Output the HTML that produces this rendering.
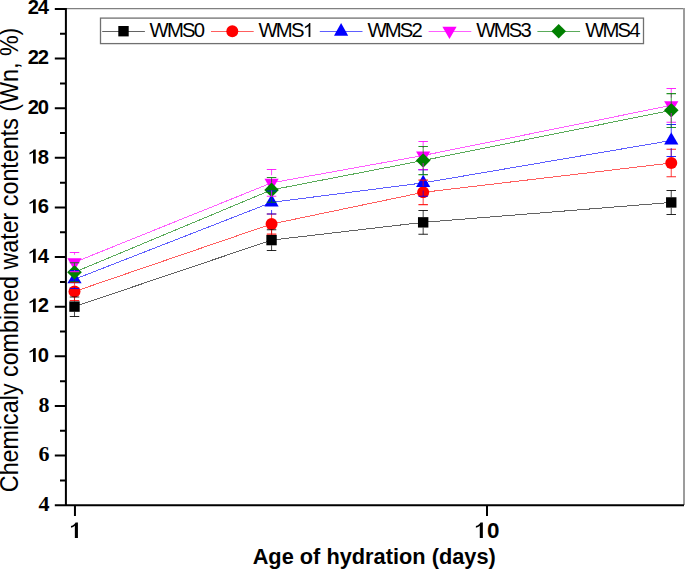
<!DOCTYPE html>
<html><head><meta charset="utf-8"><style>
html,body{margin:0;padding:0;background:#fff;}
body{width:685px;height:569px;overflow:hidden;}
svg{display:block;}
text{font-family:"Liberation Sans",sans-serif;}
</style></head><body>
<svg width="685" height="569" viewBox="0 0 685 569">
<rect width="685" height="569" fill="#fff"/>

<path d="M65.9,8.6 H683.5" fill="none" stroke="#808080" stroke-width="1.2"/>
<rect x="683" y="8" width="2" height="497" fill="#9c9c9c"/>
<polyline points="74.50,306.60 271.55,240.10 423.17,222.35 671.25,202.45" fill="none" stroke="#636363" stroke-width="1" shape-rendering="crispEdges"/>
<polyline points="74.50,291.50 271.55,224.00 423.17,192.35 671.25,163.00" fill="none" stroke="#ff5e5e" stroke-width="1" shape-rendering="crispEdges"/>
<polyline points="74.50,279.30 271.55,202.40 423.17,182.90 671.25,140.50" fill="none" stroke="#5e5eff" stroke-width="1" shape-rendering="crispEdges"/>
<polyline points="74.50,262.30 271.55,182.85 423.17,155.50 671.25,105.35" fill="none" stroke="#ff5eff" stroke-width="1" shape-rendering="crispEdges"/>
<polyline points="74.50,272.20 271.55,189.90 423.17,160.50 671.25,110.30" fill="none" stroke="#5aab5a" stroke-width="1" shape-rendering="crispEdges"/>
<rect x="69.30" y="301.40" width="10.4" height="10.4" fill="#000000"/>
<rect x="266.35" y="234.90" width="10.4" height="10.4" fill="#000000"/>
<rect x="417.97" y="217.15" width="10.4" height="10.4" fill="#000000"/>
<rect x="666.05" y="197.25" width="10.4" height="10.4" fill="#000000"/>
<circle cx="74.50" cy="291.50" r="6" fill="#ff0000"/>
<circle cx="271.55" cy="224.00" r="6" fill="#ff0000"/>
<circle cx="423.17" cy="192.35" r="6" fill="#ff0000"/>
<circle cx="671.25" cy="163.00" r="6" fill="#ff0000"/>
<polygon points="74.50,271.17 81.60,283.37 67.40,283.37" fill="#0000ff"/>
<polygon points="271.55,194.27 278.65,206.47 264.45,206.47" fill="#0000ff"/>
<polygon points="423.17,174.77 430.27,186.97 416.07,186.97" fill="#0000ff"/>
<polygon points="671.25,132.37 678.35,144.57 664.15,144.57" fill="#0000ff"/>
<polygon points="67.40,258.23 81.60,258.23 74.50,270.43" fill="#ff00ff"/>
<polygon points="264.45,178.78 278.65,178.78 271.55,190.98" fill="#ff00ff"/>
<polygon points="416.07,151.43 430.27,151.43 423.17,163.63" fill="#ff00ff"/>
<polygon points="664.15,101.28 678.35,101.28 671.25,113.48" fill="#ff00ff"/>
<polygon points="74.50,264.90 81.80,272.20 74.50,279.50 67.20,272.20" fill="#008000"/>
<polygon points="271.55,182.60 278.85,189.90 271.55,197.20 264.25,189.90" fill="#008000"/>
<polygon points="423.17,153.20 430.47,160.50 423.17,167.80 415.87,160.50" fill="#008000"/>
<polygon points="671.25,103.00 678.55,110.30 671.25,117.60 663.95,110.30" fill="#008000"/>
<path d=" M74.50,297.00 V301.40 M74.50,311.80 V316.40" stroke="#000000" stroke-width="1.05" stroke-opacity="0.7" fill="none"/>
<path d="M69.75,297.00 H79.25 M69.75,316.40 H79.25" stroke="#000000" stroke-width="1.05" stroke-opacity="0.85" fill="none"/>
<path d=" M271.55,229.75 V234.90 M271.55,245.30 V250.50" stroke="#000000" stroke-width="1.05" stroke-opacity="0.7" fill="none"/>
<path d="M266.80,229.75 H276.30 M266.80,250.50 H276.30" stroke="#000000" stroke-width="1.05" stroke-opacity="0.85" fill="none"/>
<path d=" M423.17,210.40 V217.15 M423.17,227.55 V234.30" stroke="#000000" stroke-width="1.05" stroke-opacity="0.7" fill="none"/>
<path d="M418.42,210.40 H427.92 M418.42,234.30 H427.92" stroke="#000000" stroke-width="1.05" stroke-opacity="0.85" fill="none"/>
<path d=" M671.25,190.50 V197.25 M671.25,207.65 V214.40" stroke="#000000" stroke-width="1.05" stroke-opacity="0.7" fill="none"/>
<path d="M666.50,190.50 H676.00 M666.50,214.40 H676.00" stroke="#000000" stroke-width="1.05" stroke-opacity="0.85" fill="none"/>
<path d=" M74.50,282.50 V285.50 M74.50,297.50 V300.50" stroke="#ff0000" stroke-width="1.05" stroke-opacity="0.7" fill="none"/>
<path d="M69.75,282.50 H79.25 M69.75,300.50 H79.25" stroke="#ff0000" stroke-width="1.05" stroke-opacity="0.85" fill="none"/>
<path d=" M271.55,213.90 V218.00 M271.55,230.00 V234.10" stroke="#ff0000" stroke-width="1.05" stroke-opacity="0.7" fill="none"/>
<path d="M266.80,213.90 H276.30 M266.80,234.10 H276.30" stroke="#ff0000" stroke-width="1.05" stroke-opacity="0.85" fill="none"/>
<path d=" M423.17,180.10 V186.35 M423.17,198.35 V204.60" stroke="#ff0000" stroke-width="1.05" stroke-opacity="0.7" fill="none"/>
<path d="M418.42,180.10 H427.92 M418.42,204.60 H427.92" stroke="#ff0000" stroke-width="1.05" stroke-opacity="0.85" fill="none"/>
<path d=" M671.25,149.30 V157.00 M671.25,169.00 V176.70" stroke="#ff0000" stroke-width="1.05" stroke-opacity="0.7" fill="none"/>
<path d="M666.50,149.30 H676.00 M666.50,176.70 H676.00" stroke="#ff0000" stroke-width="1.05" stroke-opacity="0.85" fill="none"/>
<path d=" M74.50,270.60 V271.70 M74.50,286.90 V288.50" stroke="#0000ff" stroke-width="1.05" stroke-opacity="0.7" fill="none"/>
<path d="M69.75,270.60 H79.25 M69.75,288.50 H79.25" stroke="#0000ff" stroke-width="1.05" stroke-opacity="0.85" fill="none"/>
<path d=" M271.55,190.90 V194.80 M271.55,210.00 V213.90" stroke="#0000ff" stroke-width="1.05" stroke-opacity="0.7" fill="none"/>
<path d="M266.80,190.90 H276.30 M266.80,213.90 H276.30" stroke="#0000ff" stroke-width="1.05" stroke-opacity="0.85" fill="none"/>
<path d=" M423.17,169.60 V175.30 M423.17,190.50 V196.20" stroke="#0000ff" stroke-width="1.05" stroke-opacity="0.7" fill="none"/>
<path d="M418.42,169.60 H427.92 M418.42,196.20 H427.92" stroke="#0000ff" stroke-width="1.05" stroke-opacity="0.85" fill="none"/>
<path d=" M671.25,124.40 V132.90 M671.25,148.10 V156.40" stroke="#0000ff" stroke-width="1.05" stroke-opacity="0.7" fill="none"/>
<path d="M666.50,124.40 H676.00 M666.50,156.40 H676.00" stroke="#0000ff" stroke-width="1.05" stroke-opacity="0.85" fill="none"/>
<path d=" M74.50,252.50 V254.70 M74.50,269.90 V271.60" stroke="#ff00ff" stroke-width="1.05" stroke-opacity="0.7" fill="none"/>
<path d="M69.75,252.50 H79.25 M69.75,271.60 H79.25" stroke="#ff00ff" stroke-width="1.05" stroke-opacity="0.85" fill="none"/>
<path d=" M271.55,169.40 V175.25 M271.55,190.45 V196.30" stroke="#ff00ff" stroke-width="1.05" stroke-opacity="0.7" fill="none"/>
<path d="M266.80,169.40 H276.30 M266.80,196.30 H276.30" stroke="#ff00ff" stroke-width="1.05" stroke-opacity="0.85" fill="none"/>
<path d=" M423.17,141.40 V147.90 M423.17,163.10 V169.60" stroke="#ff00ff" stroke-width="1.05" stroke-opacity="0.7" fill="none"/>
<path d="M418.42,141.40 H427.92 M418.42,169.60 H427.92" stroke="#ff00ff" stroke-width="1.05" stroke-opacity="0.85" fill="none"/>
<path d=" M671.25,88.50 V97.75 M671.25,112.95 V122.20" stroke="#ff00ff" stroke-width="1.05" stroke-opacity="0.7" fill="none"/>
<path d="M666.50,88.50 H676.00 M666.50,122.20 H676.00" stroke="#ff00ff" stroke-width="1.05" stroke-opacity="0.85" fill="none"/>
<path d=" M74.50,262.70 V264.90 M74.50,279.50 V281.70" stroke="#008000" stroke-width="1.05" stroke-opacity="0.7" fill="none"/>
<path d="M69.75,262.70 H79.25 M69.75,281.70 H79.25" stroke="#008000" stroke-width="1.05" stroke-opacity="0.85" fill="none"/>
<path d=" M271.55,177.50 V182.60 M271.55,197.20 V202.30" stroke="#008000" stroke-width="1.05" stroke-opacity="0.7" fill="none"/>
<path d="M266.80,177.50 H276.30 M266.80,202.30 H276.30" stroke="#008000" stroke-width="1.05" stroke-opacity="0.85" fill="none"/>
<path d=" M423.17,146.40 V153.20 M423.17,167.80 V174.60" stroke="#008000" stroke-width="1.05" stroke-opacity="0.7" fill="none"/>
<path d="M418.42,146.40 H427.92 M418.42,174.60 H427.92" stroke="#008000" stroke-width="1.05" stroke-opacity="0.85" fill="none"/>
<path d=" M671.25,93.60 V103.00 M671.25,117.60 V127.40" stroke="#008000" stroke-width="1.05" stroke-opacity="0.7" fill="none"/>
<path d="M666.50,93.60 H676.00 M666.50,127.40 H676.00" stroke="#008000" stroke-width="1.05" stroke-opacity="0.85" fill="none"/>
<path d="M65.9,8 V506.3 M64.9,505.25 H684 M54.8,505.20 H66 M60,480.39 H66 M54.8,455.58 H66 M60,430.77 H66 M54.8,405.96 H66 M60,381.15 H66 M54.8,356.34 H66 M60,331.53 H66 M54.8,306.72 H66 M60,281.91 H66 M54.8,257.10 H66 M60,232.29 H66 M54.8,207.48 H66 M60,182.67 H66 M54.8,157.86 H66 M60,133.05 H66 M54.8,108.24 H66 M60,83.43 H66 M54.8,58.62 H66 M60,33.81 H66 M54.8,9.00 H66 M74.95,505 V516 M487.00,505 V516" stroke="#000" stroke-width="2" fill="none"/>
<text x="49.6" y="511.00" font-size="22" font-weight="bold" style="font-family:'Liberation Serif',serif" text-anchor="end">4</text>
<text x="49.6" y="461.38" font-size="22" font-weight="bold" style="font-family:'Liberation Serif',serif" text-anchor="end">6</text>
<text x="49.6" y="411.76" font-size="22" font-weight="bold" style="font-family:'Liberation Serif',serif" text-anchor="end">8</text>
<text x="47.7" y="361.99" font-size="20.2" font-weight="bold" letter-spacing="-1.3" text-anchor="end"><tspan class="one" fill="transparent">1</tspan>0</text>
<text x="47.7" y="312.37" font-size="20.2" font-weight="bold" letter-spacing="-1.3" text-anchor="end"><tspan class="one" fill="transparent">1</tspan>2</text>
<text x="47.7" y="262.75" font-size="20.2" font-weight="bold" letter-spacing="-1.3" text-anchor="end"><tspan class="one" fill="transparent">1</tspan>4</text>
<text x="47.7" y="213.13" font-size="20.2" font-weight="bold" letter-spacing="-1.3" text-anchor="end"><tspan class="one" fill="transparent">1</tspan>6</text>
<text x="47.7" y="163.51" font-size="20.2" font-weight="bold" letter-spacing="-1.3" text-anchor="end"><tspan class="one" fill="transparent">1</tspan>8</text>
<text x="47.7" y="113.89" font-size="20.2" font-weight="bold" letter-spacing="-1.3" text-anchor="end">20</text>
<text x="47.7" y="64.27" font-size="20.2" font-weight="bold" letter-spacing="-1.3" text-anchor="end">22</text>
<text x="47.7" y="13.85" font-size="20.2" font-weight="bold" letter-spacing="-1.3" text-anchor="end">24</text>
<text x="74.95" y="537.9" font-size="22.4" font-weight="bold" text-anchor="middle"><tspan class="one" fill="transparent">1</tspan></text>
<text x="487.00" y="537.9" font-size="22.4" font-weight="bold" text-anchor="middle"><tspan class="one" fill="transparent">1</tspan>0</text>
<text transform="translate(374.2,563.5) scale(0.99,1.04)" x="0" y="0" font-size="22" font-weight="bold" text-anchor="middle">Age of hydration (days)</text>
<text transform="translate(18,259.9) rotate(-90) scale(1,1.07)" x="0" y="0" font-size="23.3" text-anchor="middle">Chemicaly combined water contents (Wn, %)</text>
<rect x="100.5" y="18.1" width="543" height="25.5" fill="#fff" stroke="#707070" stroke-width="1.3"/>
<path d="M102.20,31.5 H144.90" stroke="#636363" stroke-width="1"/>
<rect x="118.30" y="26.00" width="10.4" height="10.4" fill="#000000"/>
<text x="149.60" y="37" font-size="20.3" letter-spacing="-1.8">WMS0</text>
<path d="M211.00,31.5 H253.70" stroke="#ff5e5e" stroke-width="1"/>
<circle cx="232.30" cy="31.20" r="6" fill="#ff0000"/>
<text x="258.50" y="37" font-size="20.3" letter-spacing="-1.8">WMS<tspan class="one" fill="transparent">1</tspan></text>
<path d="M319.80,31.5 H362.50" stroke="#5e5eff" stroke-width="1"/>
<polygon points="341.10,23.1 348.20,35.7 334.00,35.7" fill="#0000ff"/>
<text x="367.40" y="37" font-size="20.3" letter-spacing="-1.8">WMS2</text>
<path d="M428.60,31.5 H471.30" stroke="#ff5eff" stroke-width="1"/>
<polygon points="442.40,26.83 456.60,26.83 449.50,39.03" fill="#ff00ff"/>
<text x="476.30" y="37" font-size="20.3" letter-spacing="-1.8">WMS3</text>
<path d="M537.40,31.5 H580.10" stroke="#5aab5a" stroke-width="1"/>
<polygon points="558.70,23.90 566.00,31.20 558.70,38.50 551.40,31.20" fill="#008000"/>
<text x="585.20" y="37" font-size="20.3" letter-spacing="-1.8">WMS4</text>
<path transform="translate(28.275,361.990) scale(0.009863,-0.009863)" d="M759,0 V1409 H545 C490,1285 335,1150 123,1085 V925 C270,965 390,1030 478,1105 V0 Z" fill="#000"/>
<path transform="translate(28.275,312.370) scale(0.009863,-0.009863)" d="M759,0 V1409 H545 C490,1285 335,1150 123,1085 V925 C270,965 390,1030 478,1105 V0 Z" fill="#000"/>
<path transform="translate(28.275,262.750) scale(0.009863,-0.009863)" d="M759,0 V1409 H545 C490,1285 335,1150 123,1085 V925 C270,965 390,1030 478,1105 V0 Z" fill="#000"/>
<path transform="translate(28.275,213.130) scale(0.009863,-0.009863)" d="M759,0 V1409 H545 C490,1285 335,1150 123,1085 V925 C270,965 390,1030 478,1105 V0 Z" fill="#000"/>
<path transform="translate(28.275,163.510) scale(0.009863,-0.009863)" d="M759,0 V1409 H545 C490,1285 335,1150 123,1085 V925 C270,965 390,1030 478,1105 V0 Z" fill="#000"/>
<path transform="translate(69.623,537.900) scale(0.010937,-0.010937)" d="M759,0 V1409 H545 C490,1285 335,1150 123,1085 V925 C270,965 390,1030 478,1105 V0 Z" fill="#000"/>
<path transform="translate(474.547,537.900) scale(0.010937,-0.010937)" d="M759,0 V1409 H545 C490,1285 335,1150 123,1085 V925 C270,965 390,1030 478,1105 V0 Z" fill="#000"/>
<path transform="translate(303.472,37.000) scale(0.009912,-0.009912)" d="M696,0 V1409 H582 C535,1300 385,1140 142,1040 V880 C290,940 430,1030 515,1115 V0 Z" fill="#000"/>
</svg></body></html>
